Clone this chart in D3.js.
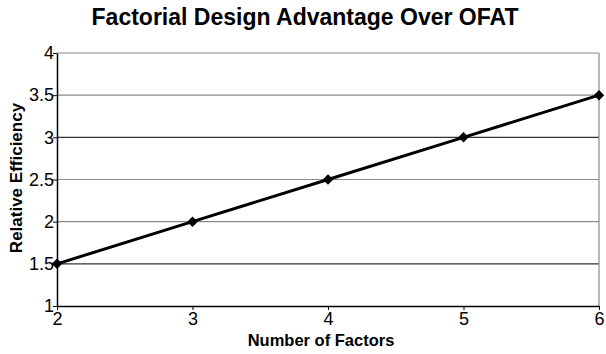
<!DOCTYPE html>
<html>
<head>
<meta charset="utf-8">
<script src="https://cdn.jsdelivr.net/npm/d3@7"></script>
<style>
  body { margin: 0; background: #fff; }
  text { font-family: "Liberation Sans", Arial, sans-serif; }
</style>
</head>
<body>
<div id="chart"></div>
<script>
const factors = [2, 3, 4, 5, 6];
const efficiency = [1.5, 2, 2.5, 3, 3.5];
const yTicks = [1, 1.5, 2, 2.5, 3, 3.5, 4];
const darkGrid = [1.5, 3];

const W = 606, H = 354;
const margin = { top: 53, right: 7, bottom: 48, left: 57 },
      width = W - margin.left - margin.right,
      height = H - margin.top - margin.bottom;

const root = d3.select("#chart").append("svg")
  .attr("width", W).attr("height", H);

root.append("text")
  .attr("x", 305).attr("y", 25)
  .attr("text-anchor", "middle")
  .attr("font-size", 23).attr("font-weight", "bold")
  .text("Factorial Design Advantage Over OFAT");

const svg = root.append("g")
  .attr("transform", `translate(${margin.left},${margin.top})`);

const x = d3.scaleLinear().domain([2, 6]).range([0, width]);
const y = d3.scaleLinear().domain([1, 4]).range([height, 0]);

// gridlines
svg.selectAll(".grid")
  .data(yTicks.filter(d => d > 1))
  .enter().append("line")
  .attr("x1", 0).attr("x2", width)
  .attr("y1", d => y(d)).attr("y2", d => y(d))
  .attr("stroke", d => darkGrid.includes(d) ? "#333" : "#8a8a8a")
  .attr("stroke-width", 1.2);

svg.append("line")
  .attr("x1", width).attr("x2", width)
  .attr("y1", 0).attr("y2", height)
  .attr("stroke", "#8a8a8a").attr("stroke-width", 1.2);

const xAxis = svg.append("g")
  .attr("transform", `translate(0,${height})`)
  .call(d3.axisBottom(x).tickValues(factors).tickFormat(d3.format("d")).tickSize(4).tickSizeOuter(0));
const yAxis = svg.append("g")
  .call(d3.axisLeft(y).tickValues(yTicks).tickFormat(d => d).tickSize(4).tickSizeOuter(0));

[xAxis, yAxis].forEach(a => {
  a.select(".domain").attr("stroke", "#000").attr("stroke-width", 1.5);
  a.selectAll(".tick line").attr("stroke", "#000");
  a.selectAll(".tick text")
    .attr("font-family", "'Liberation Sans', Arial, sans-serif")
    .attr("font-size", 18).attr("fill", "#000");
});
xAxis.selectAll(".tick text").attr("dy", "0.85em").attr("y", 4);
yAxis.selectAll(".tick text").attr("x", -3);

// axis titles
root.append("text")
  .attr("x", 321).attr("y", 346)
  .attr("text-anchor", "middle")
  .attr("font-size", 16.5).attr("font-weight", "bold")
  .text("Number of Factors");

root.append("text")
  .attr("transform", `translate(22,178) rotate(-90)`)
  .attr("text-anchor", "middle")
  .attr("font-size", 17).attr("font-weight", "bold")
  .text("Relative Efficiency");

const data = factors.map((f, i) => ({ f, v: efficiency[i] }));

svg.append("path")
  .datum(data)
  .attr("fill", "none")
  .attr("stroke", "#000")
  .attr("stroke-width", 3)
  .attr("d", d3.line().x(d => x(d.f)).y(d => y(d.v)));

svg.selectAll(".pt")
  .data(data)
  .enter().append("path")
  .attr("class", "pt")
  .attr("transform", d => `translate(${x(d.f)},${y(d.v)})`)
  .attr("d", d3.symbol(d3.symbolDiamond2, 70))
  .attr("fill", "#000");
</script>
</body>
</html>
